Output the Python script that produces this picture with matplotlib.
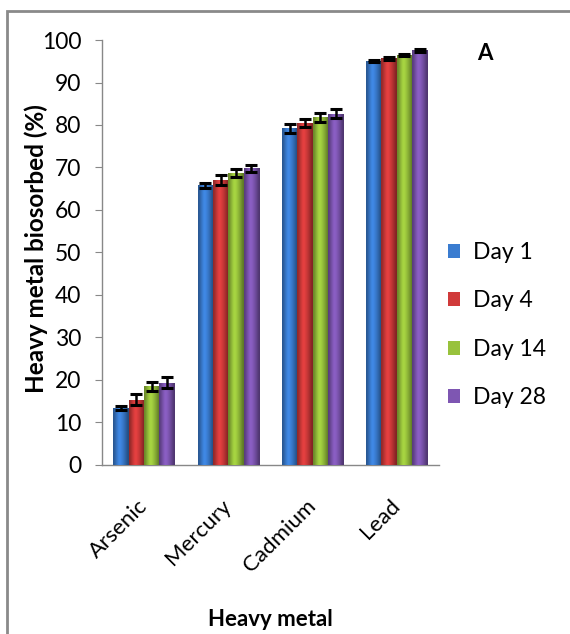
import numpy as np
import matplotlib.pyplot as plt
import matplotlib.colors as mcolors
from matplotlib.patches import Rectangle

plt.rcParams['font.family'] = ['Lato', 'DejaVu Sans']

metals = ["Arsenic", "Mercury", "Cadmium", "Lead"]
days = ["Day 1", "Day 4", "Day 14", "Day 28"]

# percent biosorbed per metal, one list per day
day1 = [13.4, 65.8, 79.2, 95.1]
day4 = [15.4, 67.0, 80.5, 95.7]
day14 = [18.5, 68.7, 81.8, 96.5]
day28 = [19.4, 69.8, 82.7, 97.6]

err1 = [0.4, 0.6, 1.0, 0.3]
err4 = [1.3, 1.2, 1.0, 0.3]
err14 = [1.0, 1.0, 1.0, 0.3]
err28 = [1.3, 0.9, 1.1, 0.4]

colors = ["#3a7cd0", "#d03a3a", "#98c23c", "#7e56b2"]

values = [day1, day4, day14, day28]
errors = [err1, err4, err14, err28]

fig = plt.figure(figsize=(5.7, 6.34), dpi=100)
ax = fig.add_axes([0.179, 0.2666, 0.591, 0.6703])

x = np.arange(len(metals))
width = 0.182

# cylinder-style shading across each bar
shade = np.array([0.70, 0.85, 1.0, 1.12, 1.08, 0.98, 0.88, 0.75, 0.62])

for j, (vals, errs) in enumerate(zip(values, errors)):
    pos = x + (j - 1.5) * width
    bars = ax.bar(pos, vals, width, color=colors[j], label=days[j], zorder=2)
    base = np.array(mcolors.to_rgb(colors[j]))
    grad = np.clip(base[None, None, :] * shade[None, :, None], 0, 1)
    for b in bars:
        im = ax.imshow(grad, extent=(b.get_x(), b.get_x() + b.get_width(), 0, b.get_height()),
                       aspect='auto', interpolation='bicubic', zorder=3)
        im.set_clip_path(b)
    ax.errorbar(pos, vals, yerr=errs, fmt='none', ecolor='black', elinewidth=1.8,
                capsize=4.5, capthick=2.2, zorder=4)

ax.set_xlim(-0.5, 3.5)
ax.set_ylim(0, 100)
ax.set_yticks(range(0, 101, 10))
ax.set_xticks(x)
ax.set_xticklabels(metals, rotation=45, ha='right', va='center', rotation_mode='anchor')

for s in ['top', 'right']:
    ax.spines[s].set_visible(False)
for s in ['left', 'bottom']:
    ax.spines[s].set_color('#888888')
    ax.spines[s].set_linewidth(1.0)

ax.tick_params(axis='y', labelsize=16.5, length=5, color='#888888', pad=10)
ax.tick_params(axis='x', labelsize=16, length=0, pad=27)

ax.set_ylabel("Heavy metal biosorbed (%)", fontsize=17.5, fontweight='bold')
ax.yaxis.set_label_coords(-0.16, 0.51)
ax.set_xlabel("Heavy metal", fontsize=16, fontweight='bold', labelpad=24)

ax.legend(loc='center left', bbox_to_anchor=(0.749, 0.487), bbox_transform=fig.transFigure,
          frameon=False, fontsize=16.5, handlelength=0.55, handleheight=0.55,
          labelspacing=1.2, handletextpad=0.55)

fig.text(0.851, 0.916, "A", fontsize=16, fontweight='bold', ha='center', va='center')

# outer frame around the panel
fig.patches.append(Rectangle((7 / 570, -0.1), 1.2, 1.1 - 11 / 634,
                             transform=fig.transFigure, fill=False,
                             edgecolor='#8a8a8a', linewidth=2))

fig.savefig("out.png", dpi=100)
